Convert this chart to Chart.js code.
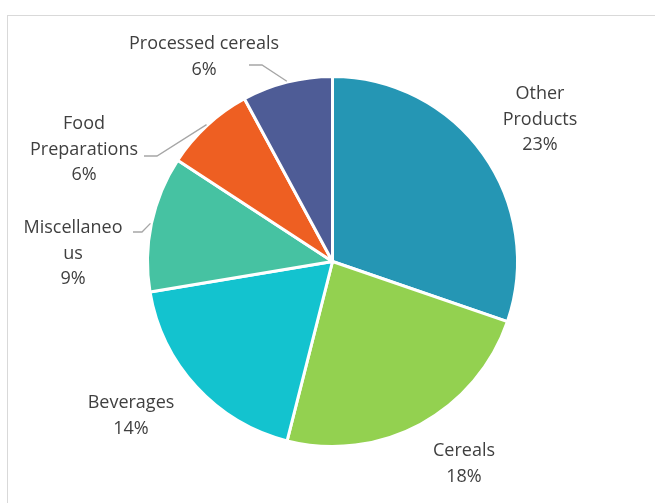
<!DOCTYPE html>
<html lang="en">

<head>
    <meta charset="UTF-8">
    <script src="https://cdn.jsdelivr.net/npm/chart.js@4.4.0/dist/chart.umd.min.js"></script>
    <title>Product share</title>
    <style>
        body {
            margin: 0;
            background: #fff;
            overflow: hidden;
        }

        .frame {
            position: absolute;
            left: 7px;
            top: 15px;
            width: 700px;
            height: 540px;
            border: 1px solid #d9d9d9;
        }

        canvas {
            position: absolute;
            left: 0;
            top: 0;
        }
    </style>
</head>

<body>
    <div class="frame"></div>
    <canvas id="pie" width="655" height="503"></canvas>

    <script>
        const categories = ['Other Products', 'Cereals', 'Beverages', 'Miscellaneous', 'Food Preparations', 'Processed cereals'];
        const shares = [23, 18, 14, 9, 6, 6];
        // wrapped label text, one entry per slice
        const labelLines = [
            ['Other', 'Products'],
            ['Cereals'],
            ['Beverages'],
            ['Miscellaneo', 'us'],
            ['Food', 'Preparations'],
            ['Processed cereals']
        ];
        const colors = ['#2596b4', '#93d150', '#13c3cf', '#46c2a2', '#ee5f22', '#4e5c96'];

        // label centre (x, y of first line) and optional leader line start/elbow
        const labelLayout = [
            { x: 540, y: 94 },
            { x: 464, y: 451 },
            { x: 131, y: 403 },
            { x: 73, y: 228, leader: [[133, 232], [142, 232]] },
            { x: 84, y: 124, leader: [[144, 156], [157, 156]] },
            { x: 204, y: 44, leader: [[249, 65], [262, 65]] }
        ];

        const labelPlugin = {
            id: 'sliceLabels',
            afterDraw(chart) {
                const ctx = chart.ctx;
                const arcs = chart.getDatasetMeta(0).data;
                ctx.save();
                ctx.font = '18px "Open Sans", sans-serif';
                ctx.fillStyle = '#3f3f3f';
                ctx.textAlign = 'center';
                ctx.textBaseline = 'middle';
                labelLayout.forEach((pos, i) => {
                    const lines = labelLines[i].concat([shares[i] + '%']);
                    lines.forEach((t, k) => ctx.fillText(t, pos.x, pos.y + k * 25.5));
                    if (pos.leader) {
                        const a = arcs[i];
                        const mid = (a.startAngle + a.endAngle) / 2;
                        const r = a.outerRadius + 1;
                        ctx.strokeStyle = '#a6a6a6';
                        ctx.lineWidth = 1.3;
                        ctx.beginPath();
                        ctx.moveTo(pos.leader[0][0], pos.leader[0][1]);
                        ctx.lineTo(pos.leader[1][0], pos.leader[1][1]);
                        ctx.lineTo(a.x + r * Math.cos(mid), a.y + r * Math.sin(mid));
                        ctx.stroke();
                    }
                });
                ctx.restore();
            }
        };

        const ctx = document.getElementById('pie').getContext('2d');
        const pieChart = new Chart(ctx, {
            type: 'pie',
            data: {
                labels: categories,
                datasets: [{
                    data: shares,
                    backgroundColor: colors,
                    borderColor: '#ffffff',
                    borderWidth: 3
                }]
            },
            options: {
                responsive: false,
                animation: false,
                layout: {
                    padding: { left: 146, right: 136, top: 75, bottom: 55 }
                },
                plugins: {
                    legend: { display: false },
                    tooltip: { enabled: false }
                }
            },
            plugins: [labelPlugin]
        });
    </script>
</body>

</html>
